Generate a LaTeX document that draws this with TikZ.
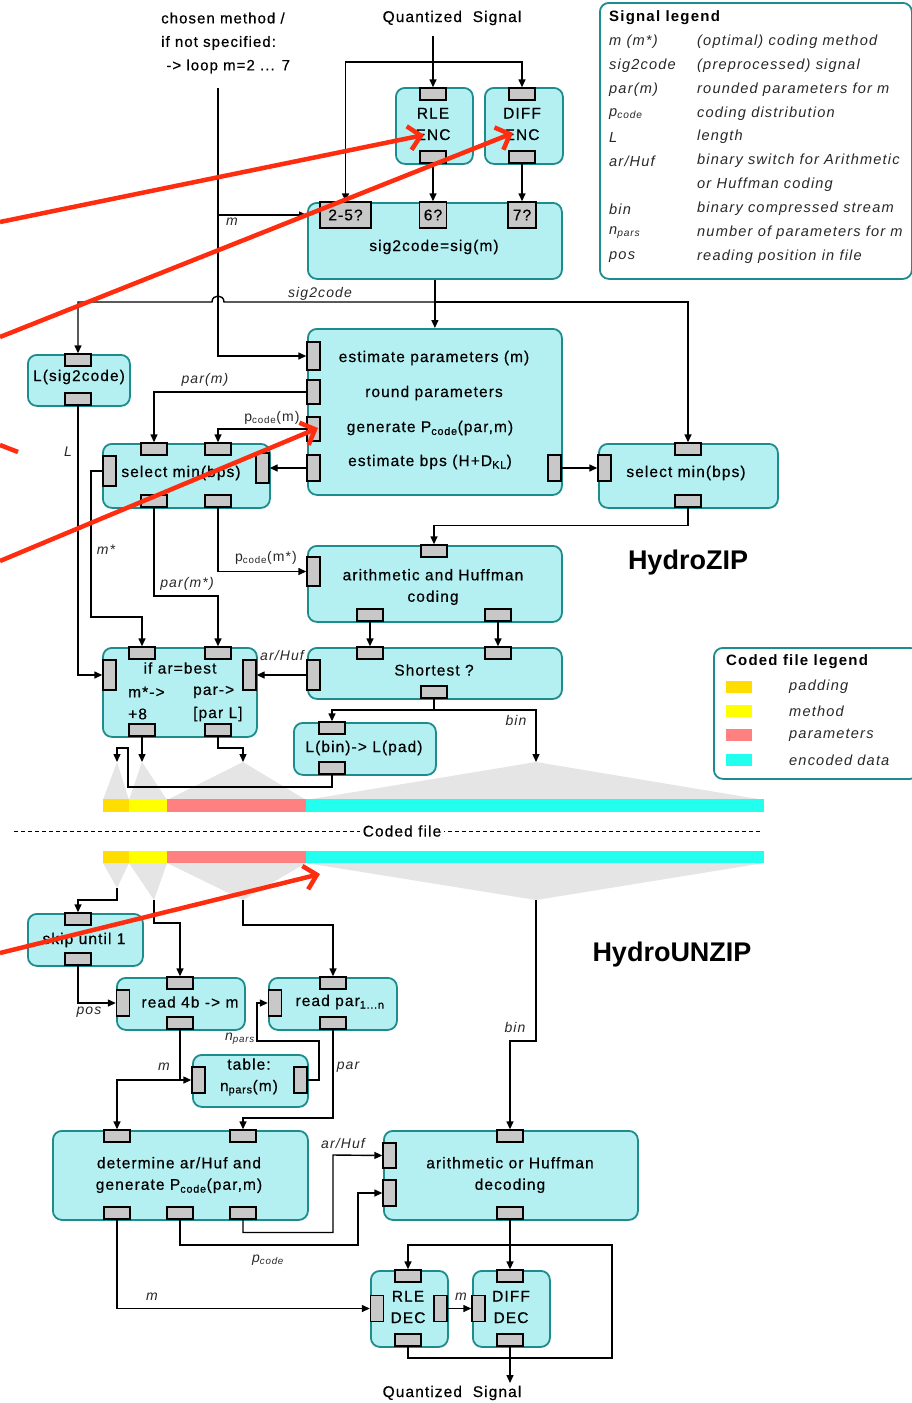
\documentclass[tikz,border=0pt]{standalone}
\usepackage{fontspec}
\setmainfont{Liberation Sans}
\newfontfamily\lab{Liberation Sans}[LetterSpace=7,FakeBold=0.5]
\newfontfamily\labi{Liberation Sans}[LetterSpace=8]
\usetikzlibrary{arrows.meta}
\definecolor{boxfill}{RGB}{180,240,242}
\definecolor{boxborder}{RGB}{30,140,140}
\definecolor{portgray}{RGB}{200,200,200}
\definecolor{fangray}{RGB}{229,229,229}
\definecolor{cpad}{RGB}{255,221,0}
\definecolor{cmeth}{RGB}{255,255,0}
\definecolor{cpar}{RGB}{255,128,128}
\definecolor{cenc}{RGB}{34,255,238}
\definecolor{annot}{RGB}{255,45,15}
\definecolor{legtext}{RGB}{40,40,40}
\newcommand{\ntext}{\lab\fontsize{15.5}{21.5}\selectfont}
\newcommand{\itext}{\labi\itshape\fontsize{14}{16}\selectfont}
\newcommand{\ltext}{\labi\itshape\fontsize{14.6}{16}\selectfont}
\newcommand{\utext}{\labi\fontsize{14}{16}\selectfont}
\newcommand{\htext}{\labi\bfseries\fontsize{15}{17}\selectfont}
\begin{document}
\begin{tikzpicture}[x=1pt,y=-1pt,
  box/.style={draw=boxborder,fill=boxfill,line width=1.8pt,rounded corners=9pt,inner sep=0pt,anchor=north west},
  legbox/.style={draw=boxborder,fill=white,line width=1.8pt,rounded corners=9pt,inner sep=0pt,anchor=north west},
  ph/.style={draw=black,fill=portgray,line width=1.4pt,minimum width=26pt,minimum height=12pt,inner sep=0pt},
  pv/.style={draw=black,fill=portgray,line width=1.4pt,minimum width=13pt,minimum height=26pt,inner sep=0pt},
  wire/.style={line width=1.4pt,draw=black},
  arr/.style={wire,-{Triangle[length=8pt,width=7pt]}},
  txt/.style={font=\ntext,inner sep=0pt,align=center,text=black},
  lbl/.style={font=\itext,inner sep=0pt,text=legtext},
  ulbl/.style={font=\utext,inner sep=0pt,text=legtext},
  legk/.style={font=\ltext,inner sep=0pt,anchor=west,text=legtext},
  legh/.style={font=\htext,inner sep=0pt,anchor=west,text=black},
  swatch/.style={minimum width=26pt,minimum height=12pt,inner sep=0pt},
  title/.style={font=\bfseries\fontsize{27}{30}\selectfont,inner sep=0pt},
  ann/.style={draw=annot,line width=4.5pt,-{Straight Barb[length=12pt,width=24pt]}},
]
\fill[white] (0,0) rectangle (912,1403);
\useasboundingbox (0,0) rectangle (912,1403);

% ---------- fans (behind) ----------
\fill[fangray] (117,762) -- (103,800) -- (129,800) -- cycle;
\fill[fangray] (142,762) -- (129,800) -- (167,800) -- cycle;
\fill[fangray] (243,762) -- (167,800) -- (306,800) -- cycle;
\fill[fangray] (536,762) -- (306,800) -- (764,800) -- cycle;
\fill[fangray] (117,888) -- (103,863) -- (129,863) -- cycle;
\fill[fangray] (154,900) -- (129,863) -- (167,863) -- cycle;
\fill[fangray] (243,900) -- (167,863) -- (306,863) -- cycle;
\fill[fangray] (536,900) -- (306,863) -- (764,863) -- cycle;

% ---------- coded file bars ----------
\fill[cpad] (103,799) rectangle (129,812);
\fill[cmeth] (129,799) rectangle (167,812);
\fill[cpar] (167,799) rectangle (306,812);
\fill[cenc] (306,799) rectangle (764,812);
\fill[cpad] (103,851) rectangle (129,863);
\fill[cmeth] (129,851) rectangle (167,863);
\fill[cpar] (167,851) rectangle (306,863);
\fill[cenc] (306,851) rectangle (764,863);
\draw[dash pattern=on 4pt off 3pt,line width=1pt] (14,831) -- (762,831);
\node[txt,fill=white,inner xsep=3pt] (cf) at (402,831) {Coded file};

% ---------- boxes ----------
\node[box,minimum width=77pt,minimum height=76pt] (rle) at (395,87) {};
\node[box,minimum width=78pt,minimum height=76pt] (diff) at (484,87) {};
\node[box,minimum width=254pt,minimum height=76pt] (s2c) at (307,202) {};
\node[box,minimum width=102pt,minimum height=51pt] (lsig) at (27,354) {};
\node[box,minimum width=254pt,minimum height=166pt] (est) at (307,328) {};
\node[box,minimum width=179pt,minimum height=64pt] (selR) at (598,443) {};
\node[box,minimum width=167pt,minimum height=64pt] (selL) at (102,443) {};
\node[box,minimum width=254pt,minimum height=76pt] (arith) at (307,545) {};
\node[box,minimum width=254pt,minimum height=51pt] (short) at (307,647) {};
\node[box,minimum width=154pt,minimum height=89pt] (ifab) at (102,647) {};
\node[box,minimum width=142pt,minimum height=52pt] (lbin) at (293,722) {};
\node[box,minimum width=115pt,minimum height=52pt] (skip) at (27,913) {};
\node[box,minimum width=128pt,minimum height=52pt] (r4b) at (116,977) {};
\node[box,minimum width=128pt,minimum height=52pt] (rpar) at (268,977) {};
\node[box,minimum width=115pt,minimum height=52pt] (tab) at (192,1054) {};
\node[box,minimum width=255pt,minimum height=89pt] (det) at (52,1130) {};
\node[box,minimum width=254pt,minimum height=89pt] (adec) at (383,1130) {};
\node[box,minimum width=77pt,minimum height=76pt] (rled) at (370,1270) {};
\node[box,minimum width=77pt,minimum height=76pt] (diffd) at (472,1270) {};

% ---------- ports ----------
\node[ph] (rle-in) at (433,94) {};
\node[ph] (rle-out) at (433,157) {};
\node[ph] (diff-in) at (522,94) {};
\node[ph] (diff-out) at (522,157) {};
\node[ph,minimum width=51pt,minimum height=26pt,font=\ntext] (p25) at (345.5,215) {2-5?};
\node[ph,minimum width=27pt,minimum height=26pt,font=\ntext] (p6) at (433,215) {6?};
\node[ph,minimum width=28pt,minimum height=26pt,font=\ntext] (p7) at (522,215) {7?};
\node[ph] (lsig-in) at (78,360) {};
\node[ph] (lsig-out) at (78,399) {};
\node[pv,minimum height=28pt] (est-p1) at (313.5,356) {};
\node[pv,minimum height=24pt] (est-p2) at (313.5,392) {};
\node[pv,minimum height=24pt] (est-p3) at (313.5,429) {};
\node[pv] (est-p4) at (313.5,468) {};
\node[pv] (est-r) at (554.5,468) {};
\node[ph] (selR-in) at (688,449) {};
\node[pv] (selR-l) at (604.5,468) {};
\node[ph] (selR-out) at (688,501) {};
\node[ph] (selL-i1) at (154,449) {};
\node[ph] (selL-i2) at (218,449) {};
\node[pv,minimum height=30pt] (selL-l) at (109.5,471) {};
\node[pv,minimum height=30pt] (selL-r) at (262.5,468) {};
\node[ph] (selL-o1) at (154,501) {};
\node[ph] (selL-o2) at (218,501) {};
\node[ph] (arith-in) at (434,551) {};
\node[pv,minimum height=29pt] (arith-l) at (313.5,571.5) {};
\node[ph] (arith-o1) at (370,615) {};
\node[ph] (arith-o2) at (498,615) {};
\node[ph] (short-i1) at (370,653) {};
\node[ph] (short-i2) at (498,653) {};
\node[pv,minimum height=30pt] (short-l) at (313.5,675) {};
\node[ph] (short-o) at (434,692) {};
\node[ph] (ifab-i1) at (142,653) {};
\node[ph] (ifab-i2) at (218,653) {};
\node[pv,minimum height=30pt] (ifab-l) at (109.5,675) {};
\node[pv,minimum height=30pt] (ifab-r) at (249.5,675) {};
\node[ph] (ifab-o1) at (142,730) {};
\node[ph] (ifab-o2) at (218,730) {};
\node[ph] (lbin-in) at (332,728) {};
\node[ph] (lbin-out) at (332,768) {};
\node[ph] (skip-in) at (78,919) {};
\node[ph] (skip-out) at (78,959) {};
\node[ph] (r4b-in) at (180,983) {};
\node[pv] (r4b-l) at (123,1003) {};
\node[ph] (r4b-out) at (180,1023) {};
\node[ph] (rpar-in) at (333,983) {};
\node[pv] (rpar-l) at (275,1003) {};
\node[ph] (rpar-out) at (333,1023) {};
\node[pv] (tab-l) at (198.5,1080) {};
\node[pv] (tab-r) at (300.5,1080) {};
\node[ph] (det-i1) at (117,1136) {};
\node[ph] (det-i2) at (243,1136) {};
\node[ph] (det-o1) at (117,1213) {};
\node[ph] (det-o2) at (180,1213) {};
\node[ph] (det-o3) at (243,1213) {};
\node[ph] (adec-in) at (510,1136) {};
\node[pv,minimum height=25pt] (adec-l1) at (389.5,1155.5) {};
\node[pv] (adec-l2) at (389.5,1193) {};
\node[ph] (adec-out) at (510,1213) {};
\node[ph] (rled-in) at (408,1276) {};
\node[pv] (rled-l) at (377,1308.5) {};
\node[pv] (rled-r) at (440.5,1308.5) {};
\node[ph] (rled-out) at (408,1340) {};
\node[ph] (diffd-in) at (510,1276) {};
\node[pv] (diffd-l) at (478.5,1308.5) {};
\node[ph] (diffd-out) at (510,1340) {};

% ---------- box texts ----------
\node[txt] (rle-t) at (433,124) {RLE\\ENC};
\node[txt] (diff-t) at (522,124) {DIFF\\ENC};
\node[txt] (s2c-t) at (434,247) {sig2code=sig(m)};
\node[txt] (lsig-t) at (79,377) {L(sig2code)};
\node[txt] (est-t1) at (434,358) {estimate parameters (m)};
\node[txt] (est-t2) at (434,393) {round parameters};
\node[txt] (est-t3) at (430,428) {generate P\textsubscript{code}(par,m)};
\node[txt] (est-t4) at (430,462) {estimate bps (H+D\textsubscript{KL})};
\node[txt] (selR-t) at (686,473) {select min(bps)};
\node[txt] (selL-t) at (181,473) {select min(bps)};
\node[txt] (arith-t) at (433,587) {arithmetic and Huffman\\coding};
\node[txt] (short-t) at (434,670) {Shortest ?};
\node[txt] (ifab-t) at (180,668) {if ar=best};
\node[txt,anchor=west] (ifab-t2) at (128,692) {m*->};
\node[txt,anchor=west] (ifab-t3) at (193,692) {par->};
\node[txt,anchor=west] (ifab-t4) at (128,714) {+8};
\node[txt,anchor=west] (ifab-t5) at (193,714) {[par L]};
\node[txt] (lbin-t) at (364,748) {L(bin)-> L(pad)};
\node[txt] (skip-t) at (84,940) {skip until 1};
\node[txt] (r4b-t) at (190,1002) {read 4b -> m};
\node[txt] (rpar-t) at (340,1002) {read par\textsubscript{1...n}};
\node[txt] (tab-t) at (249,1077) {table:\\n\textsubscript{pars}(m)};
\node[txt] (det-t) at (179,1175) {determine ar/Huf and\\generate P\textsubscript{code}(par,m)};
\node[txt] (adec-t) at (510,1175) {arithmetic or Huffman\\decoding};
\node[txt] (rled-t) at (408,1307) {RLE\\DEC};
\node[txt] (diffd-t) at (511,1307) {DIFF\\DEC};

% ---------- top texts ----------
\node[txt,align=left,anchor=west,font=\lab\fontsize{15}{23.5}\selectfont] (chosen) at (161,43) {chosen method /\\if not specified:\\\ -> loop m=2 ... 7};
\node[txt] (qs-top) at (452,18) {Quantized\ \ Signal};
\node[txt] (qs-bot) at (452,1393) {Quantized\ \ Signal};

% ---------- wires: HydroZIP ----------
\coordinate (mtop) at (218,88);
\coordinate (mj) at (218,215);
\draw[arr] (mtop) |- (est-p1.west);
\draw[arr] (mj) -- (s2c.west |- mj);
\coordinate (qtop) at (433,36);
\coordinate (qj) at (433,62);
\draw[arr] (qtop) -- (rle-in.north);
\draw[arr] (qj) -| (p25.north);
\draw[arr] (qj) -| (diff-in.north);
\draw[arr] (rle-out.south) -- (p6.north);
\draw[arr] (diff-out.south) -- (p7.north);
\draw[arr] (s2c.south) -- (est.north);
\coordinate (sj) at (434,302);
\draw[arr] (sj) -- (224,302) .. controls (224,294) and (212,294) .. (212,302) -- (78,302) -- (lsig-in.north);
\draw[arr] (sj) -| (selR-in.north);
\draw[arr] (est-r.east) -- (selR-l.west);
\draw[arr] (selR-out.south) -- ++(0,18) -| (arith-in.north);
\draw[arr] (est-p2.west) -| (selL-i1.north);
\draw[arr] (est-p3.west) -| (selL-i2.north);
\draw[arr] (est-p4.west) -- (selL-r.east);
\draw[arr] (selL-l.west) -| (91,617) -| (ifab-i1.north);
\draw[arr] (selL-o1.south) -- (154,596) -| (ifab-i2.north);
\draw[arr] (selL-o2.south) |- (arith-l.west);
\draw[arr] (lsig-out.south) |- (ifab-l.west);
\draw[arr] (arith-o1.south) -- (short-i1.north);
\draw[arr] (arith-o2.south) -- (short-i2.north);
\draw[arr] (short-l.west) -- (ifab-r.east);
\coordinate (shj) at (434,710);
\coordinate (binA) at (536,762);
\coordinate (padA) at (117,762);
\coordinate (methA) at (142,762);
\coordinate (parA) at (243,762);
\draw[wire] (short-o.south) -- (shj);
\draw[arr] (shj) -| (lbin-in.north);
\draw[arr] (shj) -| (binA);
\draw[arr] (ifab-o1.south) -- (methA);
\draw[arr] (ifab-o2.south) -- (218,748) -| (parA);
\draw[arr] (lbin-out.south) -- (332,787) -| (128,748) -| (padA);

% ---------- wires: HydroUNZIP ----------
\coordinate (padB) at (117,888);
\coordinate (methB) at (154,900);
\coordinate (parB) at (243,900);
\coordinate (binB) at (536,900);
\draw[arr] (padB) -- (117,900) -| (skip-in.north);
\draw[arr] (methB) -- (154,923) -| (r4b-in.north);
\draw[arr] (parB) -- (243,925) -| (rpar-in.north);
\draw[arr] (binB) -- (536,1041) -| (adec-in.north);
\draw[arr] (skip-out.south) |- (r4b-l.west);
\draw[arr] (r4b-out.south) |- (tab-l.west);
\coordinate (mj2) at (180,1080);
\draw[arr] (mj2) -| (det-i1.north);
\draw[arr] (tab-r.east) -- (319,1080) |- (257,1041) |- (rpar-l.west);
\draw[arr] (rpar-out.south) -- (333,1118) -| (det-i2.north);
\draw[arr] (det-o3.south) -- (243,1232.5) -| (333,1155) -- (adec-l1.west);
\draw[arr] (det-o2.south) -- (180,1245) -| (358,1193) -- (adec-l2.west);
\draw[arr] (det-o1.south) |- (rled-l.west);
\draw[arr] (adec-out.south) -- (diffd-in.north);
\coordinate (dj) at (510,1245);
\draw[arr] (dj) -| (rled-in.north);
\draw[wire] (rled-out.south) -- (408,1358) -| (612,1245) -- (dj);
\draw[arr] (rled-r.east) -- (diffd-l.west);
\coordinate (qsB) at (510,1383);
\draw[arr] (diffd-out.south) -- (qsB);

% ---------- wire labels ----------
\node[lbl] (lm1) at (232,222) {m};
\node[lbl] (ls2c) at (320,294) {sig2code};
\node[lbl] (lparm) at (205,380) {par(m)};
\node[ulbl] (lpcm) at (272,418) {p\textsubscript{code}(m)};
\node[lbl] (lL) at (68,452) {L};
\node[lbl] (lms) at (106,550) {m*};
\node[lbl] (lpars) at (187,584) {par(m*)};
\node[ulbl] (lpcms) at (266,558) {p\textsubscript{code}(m*)};
\node[lbl] (larh) at (282,655) {ar/Huf};
\node[lbl] (lbin1) at (516,720) {bin};
\node[lbl] (lpos) at (89,1012) {pos};
\node[lbl] (lm2) at (164,1067) {m};
\node[lbl] (lnp) at (240,1039) {n\textsubscript{pars}};
\node[lbl] (lpar) at (348,1067) {par};
\node[lbl] (lbin2) at (515,1027) {bin};
\node[lbl] (larh2) at (343,1143) {ar/Huf};
\node[lbl] (lpc) at (268,1260) {p\textsubscript{code}};
\node[lbl] (lm3) at (152,1297) {m};
\node[lbl] (lm4) at (461,1297) {m};

% ---------- titles ----------
\node[title] (hz) at (688,563) {HydroZIP};
\node[title] (hu) at (672,955) {HydroUNZIP};

% ---------- signal legend ----------
\node[legbox,minimum width=312pt,minimum height=276pt] (leg1) at (599,2) {};
\node[legh] (leg1-h) at (609,18) {Signal legend};
\node[legk] (lk1) at (609,42) {m (m*)};
\node[legk] (lv1) at (697,42) {(optimal) coding method};
\node[legk] (lk2) at (609,66) {sig2code};
\node[legk] (lv2) at (697,66) {(preprocessed) signal};
\node[legk] (lk3) at (609,90) {par(m)};
\node[legk] (lv3) at (697,90) {rounded parameters for m};
\node[legk] (lk4) at (609,114) {p\textsubscript{code}};
\node[legk] (lv4) at (697,114) {coding distribution};
\node[legk] (lk5) at (609,137) {L};
\node[legk] (lv5) at (697,137) {length};
\node[legk] (lk6) at (609,161) {ar/Huf};
\node[legk] (lv6) at (697,161) {binary switch for Arithmetic};
\node[legk] (lv7) at (697,185) {or Huffman coding};
\node[legk] (lk8) at (609,209) {bin};
\node[legk] (lv8) at (697,209) {binary compressed stream};
\node[legk] (lk9) at (609,233) {n\textsubscript{pars}};
\node[legk] (lv9) at (697,233) {number of parameters for m};
\node[legk] (lk10) at (609,257) {pos};
\node[legk] (lv10) at (697,257) {reading position in file};

% ---------- coded file legend ----------
\node[legbox,minimum width=205pt,minimum height=131pt] (leg2) at (713,647) {};
\node[legh] (leg2-h) at (726,662) {Coded file legend};
\node[swatch,fill=cpad] (sw1) at (739,687) {};
\node[swatch,fill=cmeth] (sw2) at (739,711) {};
\node[swatch,fill=cpar] (sw3) at (739,735) {};
\node[swatch,fill=cenc] (sw4) at (739,760) {};
\node[legk] (st1) at (789,687) {padding};
\node[legk] (st2) at (789,711) {method};
\node[legk] (st3) at (789,735) {parameters};
\node[legk] (st4) at (789,760) {encoded data};

% ---------- red annotations ----------
\coordinate (a1s) at (0,222); \coordinate (a1e) at (424,135);
\coordinate (a2s) at (0,337); \coordinate (a2e) at (513,133);
\coordinate (a3s) at (0,561); \coordinate (a3e) at (318,428);
\coordinate (a4s) at (0,953); \coordinate (a4e) at (320,874);
\coordinate (a5s) at (0,445); \coordinate (a5e) at (18,452);
\draw[ann] (a1s) -- (a1e);
\draw[ann] (a2s) -- (a2e);
\draw[ann] (a3s) -- (a3e);
\draw[ann] (a4s) -- (a4e);
\draw[draw=annot,line width=4.5pt] (a5s) -- (a5e);
\end{tikzpicture}
\end{document}
